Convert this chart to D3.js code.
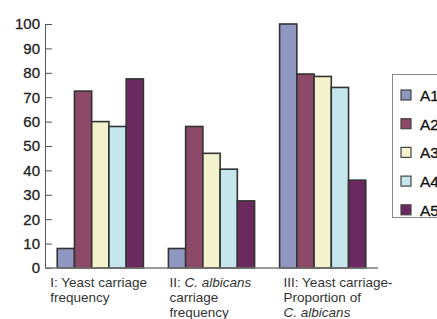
<!DOCTYPE html>
<html>
<head>
<meta charset="utf-8">
<script src="https://cdn.jsdelivr.net/npm/d3@7"></script>
<style>
  body { margin: 0; background: #fff; }
  svg { display: block; font-family: "Liberation Sans", Arial, sans-serif; }
</style>
</head>
<body>
<svg width="437" height="319"></svg>
<script>
const CATEGORIES = ['I', 'II', 'III']
const SERIES = ['A1', 'A2', 'A3', 'A4', 'A5']
const VALUES = {
  A1: [8, 8, 100],
  A2: [72.5, 58, 79.5],
  A3: [60, 47, 78.5],
  A4: [58, 40.5, 74],
  A5: [77.5, 27.5, 36]
}
const Y_TICKS = [0, 10, 20, 30, 40, 50, 60, 70, 80, 90, 100]
// each label line is a list of [text, italic] pieces
const CAT_LABELS = [
  [[['I: Yeast carriage', false]], [['frequency', false]]],
  [[['II: ', false], ['C. albicans', true]], [['carriage', false]], [['frequency', false]]],
  [[['III: Yeast carriage-', false]], [['Proportion of', false]], [['C. albicans', true]]]
]
const COLORS = ['#8f97c1', '#8c4a68', '#f3f2cc', '#c6e6ee', '#6b2a5f']

const svg = d3.select('svg')

const x = d3.scaleBand()
  .domain(CATEGORIES)
  .range([45, 378])
  .paddingInner(0.225)
  .paddingOuter(0.11)
const xs = d3.scaleBand().domain(SERIES).range([0, x.bandwidth()])
const y = d3.scaleLinear().domain([0, 100]).range([268, 24])
const color = d3.scaleOrdinal().domain(SERIES).range(COLORS)

// bars
const groups = svg.selectAll('.grp')
  .data(CATEGORIES)
  .enter()
  .append('g')
  .attr('transform', c => `translate(${x(c)},0)`)

groups.selectAll('rect')
  .data((c, i) => SERIES.map(s => ({ s, v: VALUES[s][i] })))
  .enter()
  .append('rect')
  .attr('x', d => xs(d.s))
  .attr('y', d => y(d.v))
  .attr('width', xs.bandwidth())
  .attr('height', d => y(0) - y(d.v))
  .attr('fill', d => color(d.s))
  .attr('stroke', '#333')
  .attr('stroke-width', 1.6)

// y axis
const yAxis = svg.append('g')
  .attr('transform', 'translate(45,0)')
  .call(d3.axisLeft(y).tickValues(Y_TICKS).tickSizeInner(-7).tickSizeOuter(-7).tickPadding(5))
yAxis.select('.domain').attr('stroke', '#555')
yAxis.selectAll('.tick line').attr('stroke', '#555')
yAxis.selectAll('.tick text')
  .attr('font-size', 15)
  .attr('fill', '#222')
  .attr('stroke', '#222')
  .attr('stroke-width', 0.3)
  .attr('font-family', '"Liberation Sans", Arial, sans-serif')

// x baseline
svg.append('line')
  .attr('x1', 45).attr('x2', 378)
  .attr('y1', y(0)).attr('y2', y(0))
  .attr('stroke', '#777')
  .attr('stroke-width', 1.3)

// category labels
const labelDx = [-7, 1, 4]
CATEGORIES.forEach((c, i) => {
  const t = svg.append('text')
    .attr('font-size', 13.5)
    .attr('fill', '#333')
  CAT_LABELS[i].forEach((line, li) => {
    line.forEach((piece, pi) => {
      const sp = t.append('tspan')
        .text(piece[0])
        .attr('font-style', piece[1] ? 'italic' : 'normal')
      if (pi === 0) {
        sp.attr('x', x(c) + labelDx[i]).attr('y', 287 + li * 15)
      }
    })
  })
})

// legend
const legend = svg.append('g')
legend.append('rect')
  .attr('x', 392.5).attr('y', 74.5)
  .attr('width', 60).attr('height', 143)
  .attr('fill', '#fff')
  .attr('stroke', '#888')
const items = legend.selectAll('.item')
  .data(SERIES)
  .enter()
  .append('g')
  .attr('transform', (s, i) => `translate(401,${90 + i * 28.7})`)
items.append('rect')
  .attr('width', 10).attr('height', 10)
  .attr('fill', s => color(s))
  .attr('stroke', '#444')
  .attr('stroke-width', 1.2)
items.append('text')
  .attr('x', 19).attr('y', 11)
  .attr('font-size', 15.5)
  .attr('fill', '#111')
  .attr('stroke', '#111')
  .attr('stroke-width', 0.3)
  .text(s => s)
</script>
</body>
</html>
